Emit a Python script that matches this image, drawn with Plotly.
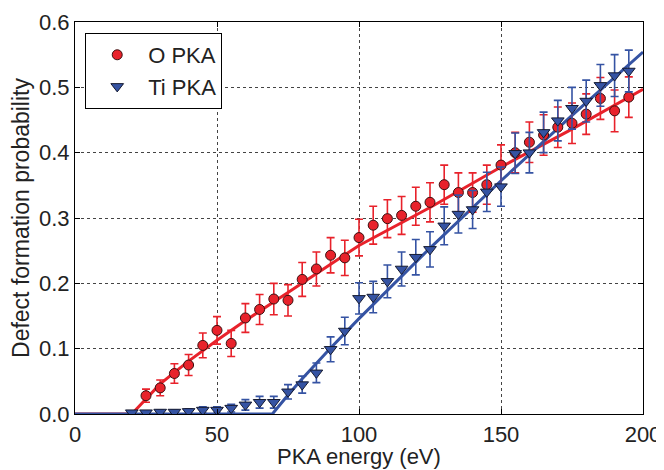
import plotly.graph_objects as go

# O PKA data
o_x = [25, 30, 35, 40, 45, 50, 55, 60, 65, 70, 75, 80, 85, 90, 95, 100,
       105, 110, 115, 120, 125, 130, 135, 140, 145, 150, 155, 160, 165,
       170, 175, 180, 185, 190, 195]
o_y = [0.028, 0.040, 0.062, 0.075, 0.105, 0.128, 0.108, 0.147, 0.160, 0.176,
       0.174, 0.206, 0.222, 0.243, 0.239, 0.270, 0.289, 0.299, 0.304, 0.318,
       0.324, 0.351, 0.339, 0.339, 0.351, 0.381, 0.400, 0.416, 0.427, 0.439,
       0.445, 0.459, 0.483, 0.464, 0.485]
o_err = [0.010, 0.012, 0.015, 0.016, 0.019, 0.021, 0.020, 0.022, 0.023, 0.024,
         0.024, 0.026, 0.026, 0.027, 0.027, 0.028, 0.029, 0.029, 0.029, 0.029,
         0.030, 0.030, 0.030, 0.030, 0.030, 0.031, 0.031, 0.031, 0.031, 0.031,
         0.031, 0.031, 0.032, 0.032, 0.031]

# Ti PKA data
ti_x = [20, 25, 30, 35, 40, 45, 50, 55, 60, 65, 70, 75, 80, 85, 90, 95, 100,
        105, 110, 115, 120, 125, 130, 135, 140, 145, 150, 155, 160, 165, 170,
        175, 180, 185, 190, 195]
ti_y = [0.002, 0.002, 0.003, 0.003, 0.004, 0.006, 0.006, 0.009, 0.014, 0.018,
        0.018, 0.034, 0.045, 0.063, 0.099, 0.127, 0.177, 0.179, 0.203, 0.222,
        0.240, 0.252, 0.288, 0.306, 0.313, 0.340, 0.348, 0.399, 0.400, 0.431,
        0.449, 0.468, 0.479, 0.503, 0.518, 0.525]
ti_err = [0.003, 0.003, 0.003, 0.003, 0.004, 0.005, 0.005, 0.006, 0.008, 0.009,
          0.009, 0.011, 0.013, 0.015, 0.019, 0.021, 0.024, 0.024, 0.025, 0.026,
          0.027, 0.027, 0.029, 0.029, 0.029, 0.030, 0.030, 0.031, 0.031, 0.031,
          0.031, 0.032, 0.032, 0.032, 0.032, 0.032]

# Fitted threshold curves
o_fit_x = [0, 20, 30, 40, 50, 60, 75, 100, 125, 150, 175, 200]
o_fit_y = [0, 0, 0.046, 0.081, 0.113, 0.143, 0.186, 0.258, 0.316, 0.378, 0.436, 0.497]
ti_fit_x = [0, 69.5, 75, 80, 90, 100, 125, 150, 175, 200]
ti_fit_y = [0, 0, 0.029, 0.054, 0.101, 0.146, 0.254, 0.357, 0.457, 0.554]

X_TITLE = "PKA energy (eV)"
Y_TITLE = "Defect formation probability"

RED = "#e8222b"
BLUE = "#3553a3"
FONT = "Liberation Sans, Arial, sans-serif"
TXT = "#222222"

fig = go.Figure()

fig.add_trace(go.Scatter(x=o_fit_x, y=o_fit_y, mode="lines",
                         line=dict(color=RED, width=3), showlegend=False,
                         hoverinfo="skip"))
fig.add_trace(go.Scatter(x=ti_fit_x, y=ti_fit_y, mode="lines",
                         line=dict(color=BLUE, width=3), showlegend=False,
                         hoverinfo="skip"))

fig.add_trace(go.Scatter(
    x=o_x, y=o_y, mode="markers", name="O PKA",
    marker=dict(symbol="circle", size=10, color=RED,
                line=dict(color="#3a1010", width=1)),
    error_y=dict(type="data", array=o_err, color=RED, thickness=1.6, width=4),
))
fig.add_trace(go.Scatter(
    x=ti_x, y=ti_y, mode="markers", name="Ti PKA",
    marker=dict(symbol="triangle-down", size=11, color=BLUE,
                line=dict(color="#151a30", width=1)),
    error_y=dict(type="data", array=ti_err, color=BLUE, thickness=1.6, width=4),
))

axis_common = dict(
    showline=True, linecolor="black", linewidth=1.2, mirror="ticks",
    ticks="inside", ticklen=5, tickcolor="black",
    showgrid=True, gridcolor="#444444", griddash="dot", gridwidth=1,
    zeroline=False, automargin=False,
    tickfont=dict(family=FONT, size=22, color=TXT),
)

fig.update_xaxes(range=[0, 200], tickvals=[0, 50, 100, 150, 200],
                 **axis_common)
fig.update_yaxes(range=[0, 0.6], tickvals=[0, 0.1, 0.2, 0.3, 0.4, 0.5, 0.6],
                 tickformat=".1f",
                 title=dict(text=Y_TITLE, standoff=5,
                            font=dict(family=FONT, size=23, color=TXT)),
                 **axis_common)

fig.add_annotation(text=X_TITLE, xref="paper", yref="paper", x=0.5, y=-0.108,
                   xanchor="center", yanchor="middle", showarrow=False,
                   font=dict(family=FONT, size=22, color=TXT))

# page body has an 8px default margin, so the figure is sized to compensate
fig.update_layout(
    width=656, height=462,
    margin=dict(l=67, r=21, t=14, b=56),
    paper_bgcolor="white", plot_bgcolor="white",
    font=dict(family=FONT, size=22, color=TXT),
    legend=dict(x=0.018, y=0.972, xanchor="left", yanchor="top",
                bgcolor="white", bordercolor="black", borderwidth=1,
                font=dict(family=FONT, size=22, color=TXT),
                itemsizing="trace", itemwidth=52, tracegroupgap=0),
    showlegend=True,
)

fig.write_html("out.html")
